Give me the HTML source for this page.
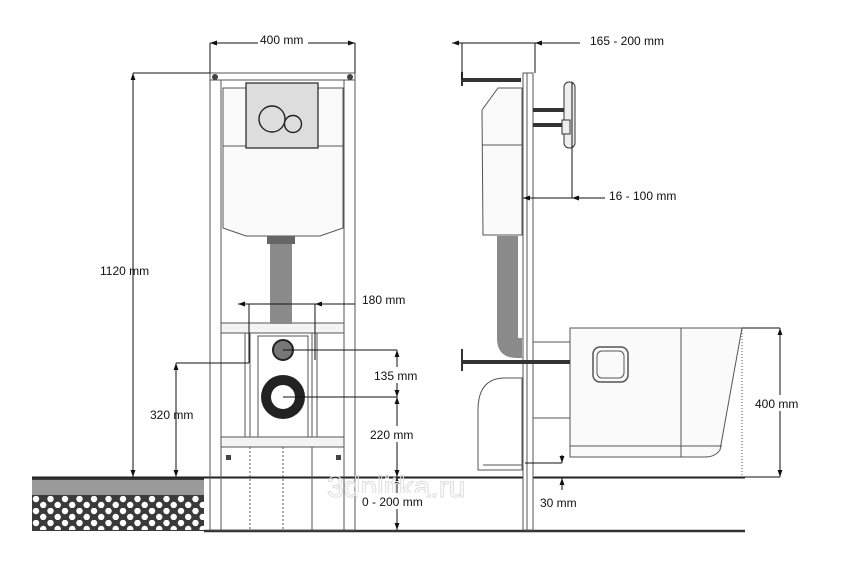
<!DOCTYPE html>
<html><head><meta charset="utf-8"><style>
html,body{margin:0;padding:0;background:#fff;width:844px;height:578px;overflow:hidden}
text{font-family:"Liberation Sans",sans-serif;font-size:12px;fill:#111}
</style></head><body>
<svg width="844" height="578" viewBox="0 0 844 578" xmlns="http://www.w3.org/2000/svg">
<defs>
<marker id="a" viewBox="0 0 10 10" refX="10" refY="5" markerWidth="7" markerHeight="7" orient="auto-start-reverse"><path d="M0,1.5 L10,5 L0,8.5z" fill="#111"/></marker>
<pattern id="dots" x="32" y="496" width="14.5" height="12" patternUnits="userSpaceOnUse">
<rect width="14.5" height="12" fill="#3a3a3a"/><circle cx="4" cy="3" r="3.2" fill="#fff"/><circle cx="11.2" cy="9" r="3.2" fill="#fff"/></pattern>
</defs>
<!-- floor slab -->
<rect x="32" y="477" width="172" height="54" fill="#3a3a3a"/>
<rect x="32" y="480" width="172" height="15" fill="#9a9a9a"/>
<rect x="32" y="496" width="172" height="34" fill="url(#dots)"/>
<line x1="32" y1="477.5" x2="745" y2="477.5" stroke="#222" stroke-width="2"/>
<line x1="204" y1="531" x2="745" y2="531" stroke="#333" stroke-width="2.5"/>

<!-- LEFT FRAME -->
<g fill="none" stroke="#555" stroke-width="1">
<rect x="210" y="73" width="145" height="457"/>
<line x1="221" y1="80" x2="221" y2="530"/><line x1="344" y1="80" x2="344" y2="530"/>
<line x1="210" y1="80" x2="355" y2="80"/>
<path d="M223,88 L343,88 L343,228 L320,236 L246,236 L223,228 Z" fill="#fafafa"/>
<line x1="223" y1="146" x2="343" y2="146"/>
<rect x="221" y="323" width="123" height="10" fill="#f4f4f4"/>
<rect x="221" y="437" width="123" height="10" fill="#f4f4f4"/>
<rect x="245" y="333" width="5" height="104"/><rect x="312" y="333" width="5" height="104"/>
<path d="M258,336 L308,336 L308,437 L258,437 Z"/>
<line x1="250" y1="447" x2="250" y2="530" stroke-dasharray="2,2"/>
<line x1="283" y1="447" x2="283" y2="530" stroke-dasharray="2,2"/>
<line x1="312" y1="447" x2="312" y2="530"/>
</g>
<circle cx="215" cy="77" r="3" fill="#444"/><circle cx="350" cy="77" r="3" fill="#444"/>
<rect x="246" y="83" width="72" height="65" fill="#ddd" stroke="#222" stroke-width="1.2"/>
<circle cx="272" cy="119" r="13" fill="none" stroke="#222" stroke-width="1.4"/>
<circle cx="293" cy="124" r="8.5" fill="#ddd" stroke="#222" stroke-width="1.4"/>
<rect x="270" y="236" width="22" height="88" fill="#8a8a8a"/>
<rect x="267" y="236" width="28" height="8" fill="#666"/>
<circle cx="283" cy="350" r="10" fill="#777" stroke="#222" stroke-width="2"/>
<circle cx="283" cy="397" r="22" fill="#222"/>
<circle cx="283" cy="397" r="12" fill="#fff"/>
<rect x="226" y="455" width="5" height="5" fill="#444"/><rect x="336" y="455" width="5" height="5" fill="#444"/>

<!-- RIGHT SIDE -->
<g fill="none" stroke="#555" stroke-width="1">
<rect x="523" y="73" width="10" height="457" fill="#fff"/>
<line x1="527" y1="73" x2="527" y2="530"/>
<path d="M498,88 L522,88 L522,235 L483,235 L482,110 Z" fill="#fafafa"/>
<line x1="482" y1="145" x2="522" y2="145"/>
<path d="M478,410 Q478,378 505,378 L522,378 L522,470 L478,470 Z" fill="#fff"/>
<path d="M570,328 L742,328 L720,450 Q715,457 705,457 L570,457 Z" fill="#fafafa"/>
<line x1="681" y1="328" x2="681" y2="457"/>
<line x1="570" y1="446" x2="722" y2="446"/>
<line x1="742" y1="330" x2="742" y2="477" stroke-dasharray="1,2"/>
<line x1="533" y1="342" x2="570" y2="342"/><line x1="533" y1="418" x2="570" y2="418"/>
<rect x="593" y="347" width="35" height="35" rx="7" stroke-width="1.5"/>
<rect x="597" y="351" width="27" height="27" rx="5"/>
<line x1="483" y1="465" x2="522" y2="465"/>
</g>
<rect x="497" y="236" width="21" height="105" fill="#8a8a8a"/>
<path d="M497,338 Q497,358 517,358 L522,358 L522,338 Z" fill="#8a8a8a"/>
<rect x="463" y="78" width="58" height="4" fill="#333"/><rect x="461" y="72" width="2" height="14" fill="#333"/>
<rect x="533" y="108" width="33" height="4" fill="#333"/><rect x="533" y="123" width="30" height="4" fill="#333"/>
<rect x="564" y="82" width="11" height="66" rx="5" fill="#eee" stroke="#333"/>
<rect x="562" y="120" width="8" height="14" fill="#eee" stroke="#333"/>
<rect x="463" y="360" width="107" height="4" fill="#333"/><rect x="461" y="349" width="2" height="22" fill="#333"/>

<!-- DIMENSIONS -->
<g stroke="#111" stroke-width="1" fill="none">
<line x1="210" y1="43" x2="258" y2="43" marker-start="url(#a)"/>
<line x1="308" y1="43" x2="355" y2="43" marker-end="url(#a)"/>
<line x1="210" y1="43" x2="210" y2="73"/><line x1="355" y1="43" x2="355" y2="73"/>
<line x1="133" y1="73" x2="210" y2="73"/>
<line x1="133" y1="73" x2="133" y2="477" marker-start="url(#a)" marker-end="url(#a)"/>
<line x1="238" y1="304" x2="355" y2="304"/>
<line x1="238" y1="304" x2="249" y2="304" marker-start="url(#a)"/>
<line x1="330" y1="304" x2="315" y2="304" marker-end="url(#a)"/>
<line x1="249" y1="304" x2="249" y2="363"/><line x1="315" y1="304" x2="315" y2="360"/>
<line x1="176" y1="363" x2="249" y2="363"/>
<line x1="176" y1="363" x2="176" y2="477" marker-start="url(#a)" marker-end="url(#a)"/>
<line x1="283" y1="350" x2="397" y2="350"/><line x1="283" y1="397" x2="397" y2="397"/>
<line x1="397" y1="350" x2="397" y2="397" marker-start="url(#a)" marker-end="url(#a)"/>
<line x1="397" y1="397" x2="397" y2="477" marker-start="url(#a)" marker-end="url(#a)"/>
<line x1="397" y1="477" x2="397" y2="530" marker-start="url(#a)" marker-end="url(#a)"/>
<line x1="452" y1="43" x2="580" y2="43"/>
<line x1="462" y1="43" x2="452" y2="43" marker-end="url(#a)"/>
<line x1="545" y1="43" x2="535" y2="43" marker-end="url(#a)"/>
<line x1="462" y1="43" x2="462" y2="80"/><line x1="535" y1="43" x2="535" y2="73"/>
<line x1="523" y1="198" x2="605" y2="198"/>
<line x1="533" y1="198" x2="523" y2="198" marker-end="url(#a)"/>
<line x1="582" y1="198" x2="572" y2="198" marker-end="url(#a)"/>
<line x1="572" y1="82" x2="572" y2="198"/>
<line x1="742" y1="328" x2="780" y2="328"/><line x1="745" y1="477" x2="780" y2="477"/>
<line x1="780" y1="328" x2="780" y2="477" marker-start="url(#a)" marker-end="url(#a)"/>
<line x1="525" y1="463" x2="562" y2="463"/>
<line x1="562" y1="455" x2="562" y2="463" marker-end="url(#a)"/>
<line x1="562" y1="490" x2="562" y2="478" marker-end="url(#a)"/>
</g>
<text x="327" y="497" style="font-size:30px;fill:none;stroke:#ddd;stroke-width:1">3dplitka.ru</text>
<rect x="370" y="367" width="50" height="16" fill="#fff"/>
<rect x="366" y="426" width="50" height="16" fill="#fff"/>
<rect x="358" y="493" width="68" height="16" fill="#fff"/>
<rect x="752" y="395" width="50" height="16" fill="#fff"/>
<g>
<text x="260" y="44">400 mm</text>
<text x="100" y="275">1120 mm</text>
<text x="362" y="304">180 mm</text>
<text x="150" y="419">320 mm</text>
<text x="374" y="380">135 mm</text>
<text x="370" y="439">220 mm</text>
<text x="362" y="506">0 - 200 mm</text>
<text x="590" y="45">165 - 200 mm</text>
<text x="609" y="200">16 - 100 mm</text>
<text x="755" y="408">400 mm</text>
<text x="540" y="507">30 mm</text>
</g>
</svg>
</body></html>
